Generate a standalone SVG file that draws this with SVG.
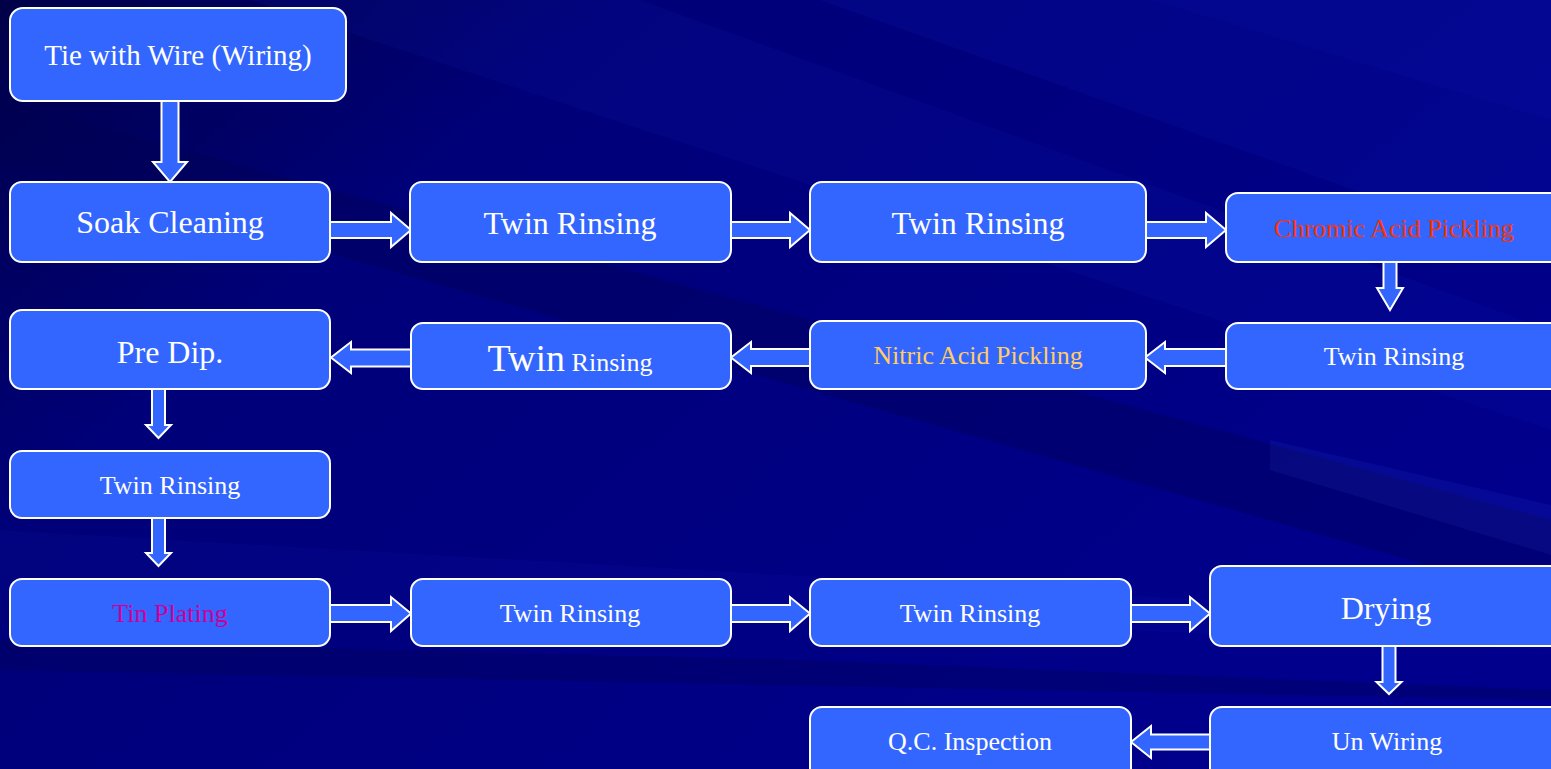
<svg xmlns="http://www.w3.org/2000/svg" width="1551" height="769" viewBox="0 0 1551 769">
<defs>
<linearGradient id="bg" x1="0" y1="0" x2="1" y2="0.6">
<stop offset="0" stop-color="#000048"/>
<stop offset="0.3" stop-color="#000078"/>
<stop offset="1" stop-color="#00008C"/>
</linearGradient>
<style>
.box{fill:#3366FF;stroke:#FFFFFF;stroke-width:2}
.arr{fill:#3366FF;stroke:#FFFFFF;stroke-width:2;stroke-linejoin:miter}
.t{font-family:"Liberation Serif","Times New Roman",serif;fill:#FFFFFF;text-anchor:middle}
.big{font-size:32px}
.sm{font-size:26px}
.streak{fill:#2040FF}
</style>
</defs>
<rect width="1551" height="769" fill="url(#bg)"/>
<g id="background">
<polygon class="streak" opacity="0.06" points="250,0 640,0 1551,330 1551,430"/>
<polygon class="streak" opacity="0.07" points="820,0 1551,0 1551,260"/>
<polygon class="streak" opacity="0.05" points="1150,0 1551,0 1551,120"/>
<polygon fill="#000050" opacity="0.35" points="0,100 0,160 1551,600 1551,520"/>
<polygon fill="#5070FF" opacity="0.08" points="1270,440 1551,505 1551,555 1270,470"/>
<polygon class="streak" opacity="0.05" points="0,530 700,570 1551,620 1551,650 700,610 0,600"/>
<polygon fill="#000050" opacity="0.3" points="0,640 800,660 1551,690 1551,700 0,670"/>
</g>
<g id="connectors">
<path class="arr" d="M170,99.5 H161.5 V162 H153 L170,182 L187,162 H178.5 V99.5 Z"/>
<path class="arr" d="M329,222 H391 V213 L411,230 L391,247 V238 H329 Z"/>
<path class="arr" d="M730,222 H790 V213 L810,230 L790,247 V238 H730 Z"/>
<path class="arr" d="M1145,222 H1206 V213 L1226,230 L1206,247 V238 H1145 Z"/>
<path class="arr" d="M1383.5,261 V288 H1377 L1390,310 L1403,288 H1396.5 V261 Z"/>
<path class="arr" d="M1227,349 H1165 V342 L1145,357.5 L1165,373 V366 H1227 Z"/>
<path class="arr" d="M811,349 H751 V342 L731,357.5 L751,373 V366 H811 Z"/>
<path class="arr" d="M412,349.5 H351 V342 L331,357.5 L351,373 V366.5 H412 Z"/>
<path class="arr" d="M152,388 V425 H146 L158.5,438 L171,425 H165 V388 Z"/>
<path class="arr" d="M152,517 V553 H146 L158.5,566 L171,553 H165 V517 Z"/>
<path class="arr" d="M329,605 H391 V597 L411,613.5 L391,631 V622 H329 Z"/>
<path class="arr" d="M730,605 H790 V597 L810,613.5 L790,631 V622 H730 Z"/>
<path class="arr" d="M1130,605 H1190 V597 L1210,613.5 L1190,631 V622 H1130 Z"/>
<path class="arr" d="M1382.5,645 V682 H1376.5 L1389,694 L1401.5,682 H1395.5 V645 Z"/>
<path class="arr" d="M1211,734.5 H1151 V726 L1131,742 L1151,758 V749.5 H1211 Z"/>
</g>
<g id="n1"><rect class="box" x="10" y="8" width="336" height="93" rx="13"/><text class="t" x="178" y="65" font-size="29">Tie with Wire (Wiring)</text></g>
<g id="n2"><rect class="box" x="10" y="182" width="320" height="80" rx="12"/><text class="t big" x="170" y="233">Soak Cleaning</text></g>
<g id="n3"><rect class="box" x="410" y="182" width="321" height="80" rx="12"/><text class="t big" x="570" y="234">Twin Rinsing</text></g>
<g id="n4"><rect class="box" x="810" y="182" width="336" height="80" rx="12"/><text class="t big" x="978" y="234">Twin Rinsing</text></g>
<g id="n5"><rect class="box" x="1226" y="193" width="336" height="69" rx="12"/><text class="t sm" x="1394" y="237" style="fill:#FF3300">Chromic Acid Pickling</text></g>
<g id="n6"><rect class="box" x="1226" y="323" width="336" height="66" rx="12"/><text class="t sm" x="1394" y="365">Twin Rinsing</text></g>
<g id="n7"><rect class="box" x="810" y="321" width="336" height="68" rx="12"/><text class="t sm" x="978" y="364" style="fill:#FFCC66">Nitric Acid Pickling</text></g>
<g id="n8"><rect class="box" x="411" y="323" width="320" height="66" rx="12"/><text class="t" x="570" y="371"><tspan font-size="38">Twin</tspan><tspan font-size="26"> Rinsing</tspan></text></g>
<g id="n9"><rect class="box" x="10" y="310" width="320" height="79" rx="12"/><text class="t big" x="170" y="363">Pre Dip.</text></g>
<g id="n10"><rect class="box" x="10" y="451" width="320" height="67" rx="12"/><text class="t sm" x="170" y="494">Twin Rinsing</text></g>
<g id="n11"><rect class="box" x="10" y="579" width="320" height="67" rx="12"/><text class="t sm" x="170" y="622" style="fill:#CC0099">Tin Plating</text></g>
<g id="n12"><rect class="box" x="411" y="579" width="320" height="67" rx="12"/><text class="t sm" x="570" y="622">Twin Rinsing</text></g>
<g id="n13"><rect class="box" x="810" y="579" width="321" height="67" rx="12"/><text class="t sm" x="970" y="622">Twin Rinsing</text></g>
<g id="n14"><rect class="box" x="1210" y="566" width="352" height="80" rx="12"/><text class="t big" x="1386" y="619">Drying</text></g>
<g id="n15"><rect class="box" x="1210" y="707" width="352" height="80" rx="12"/><text class="t sm" x="1387" y="750">Un Wiring</text></g>
<g id="n16"><rect class="box" x="810" y="707" width="321" height="80" rx="12"/><text class="t sm" x="970" y="750">Q.C. Inspection</text></g>
</svg>
